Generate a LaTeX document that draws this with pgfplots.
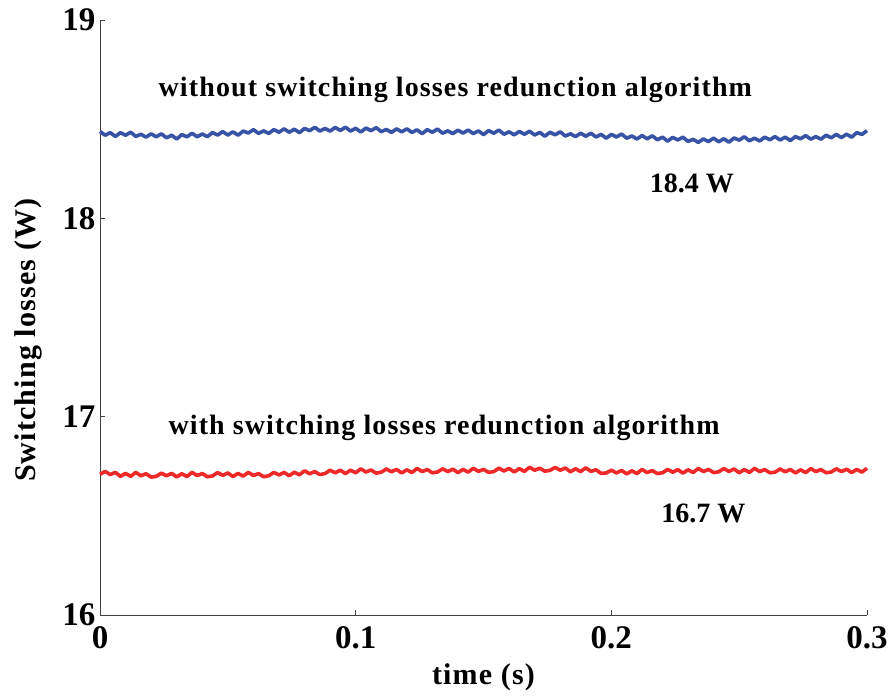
\documentclass[border=0pt]{standalone}
\usepackage{pgfplots}
\pgfplotsset{compat=1.18}
\usepackage{pgfplotstable}
\usepackage{fontspec}
\setmainfont{Liberation Serif}

\definecolor{lossblue}{RGB}{56,82,166}
\definecolor{lossred}{RGB}{237,41,41}

% switching losses without the reduction algorithm (W)
\pgfplotstableread{
t P
0.000 18.438
0.002 18.419
0.004 18.432
0.006 18.413
0.008 18.432
0.010 18.419
0.012 18.434
0.014 18.413
0.016 18.424
0.018 18.409
0.020 18.426
0.022 18.411
0.024 18.426
0.026 18.406
0.028 18.419
0.030 18.400
0.032 18.422
0.034 18.411
0.036 18.429
0.038 18.411
0.040 18.425
0.042 18.412
0.044 18.432
0.046 18.420
0.048 18.437
0.050 18.420
0.052 18.436
0.054 18.419
0.056 18.440
0.058 18.430
0.060 18.447
0.062 18.428
0.064 18.441
0.066 18.428
0.068 18.447
0.070 18.434
0.072 18.451
0.074 18.434
0.076 18.449
0.078 18.432
0.080 18.453
0.082 18.442
0.084 18.459
0.086 18.440
0.088 18.453
0.090 18.440
0.092 18.458
0.094 18.443
0.096 18.459
0.098 18.440
0.100 18.454
0.102 18.435
0.104 18.455
0.106 18.442
0.108 18.457
0.110 18.437
0.112 18.448
0.114 18.433
0.116 18.451
0.118 18.436
0.120 18.451
0.122 18.433
0.124 18.446
0.126 18.427
0.128 18.447
0.130 18.434
0.132 18.450
0.134 18.429
0.136 18.441
0.138 18.427
0.140 18.444
0.142 18.430
0.144 18.445
0.146 18.427
0.148 18.441
0.150 18.422
0.152 18.442
0.154 18.429
0.156 18.445
0.158 18.424
0.160 18.436
0.162 18.421
0.164 18.438
0.166 18.424
0.168 18.439
0.170 18.420
0.172 18.433
0.174 18.414
0.176 18.434
0.178 18.421
0.180 18.436
0.182 18.415
0.184 18.426
0.186 18.412
0.188 18.429
0.190 18.414
0.192 18.429
0.194 18.410
0.196 18.423
0.198 18.404
0.200 18.423
0.202 18.410
0.204 18.425
0.206 18.404
0.208 18.415
0.210 18.400
0.212 18.417
0.214 18.401
0.216 18.416
0.218 18.396
0.220 18.409
0.222 18.389
0.224 18.408
0.226 18.395
0.228 18.409
0.230 18.388
0.232 18.398
0.234 18.383
0.236 18.400
0.238 18.387
0.240 18.404
0.242 18.386
0.244 18.401
0.246 18.384
0.248 18.405
0.250 18.394
0.252 18.411
0.254 18.391
0.256 18.404
0.258 18.390
0.260 18.409
0.262 18.396
0.264 18.412
0.266 18.395
0.268 18.409
0.270 18.392
0.272 18.412
0.274 18.401
0.276 18.417
0.278 18.399
0.280 18.412
0.282 18.399
0.284 18.419
0.286 18.406
0.288 18.423
0.290 18.407
0.292 18.424
0.294 18.409
0.296 18.432
0.298 18.423
0.300 18.442
}\withoutalg

% switching losses with the reduction algorithm (W)
\pgfplotstableread{
t P
0.000 16.709
0.002 16.724
0.004 16.708
0.006 16.719
0.008 16.699
0.010 16.714
0.012 16.699
0.014 16.719
0.016 16.702
0.018 16.712
0.020 16.695
0.022 16.699
0.024 16.715
0.026 16.702
0.028 16.714
0.030 16.696
0.032 16.712
0.034 16.698
0.036 16.719
0.038 16.703
0.040 16.713
0.042 16.697
0.044 16.701
0.046 16.718
0.048 16.704
0.050 16.716
0.052 16.698
0.054 16.714
0.056 16.700
0.058 16.719
0.060 16.703
0.062 16.713
0.064 16.697
0.066 16.702
0.068 16.719
0.070 16.706
0.072 16.719
0.074 16.702
0.076 16.720
0.078 16.707
0.080 16.727
0.082 16.712
0.084 16.723
0.086 16.708
0.088 16.713
0.090 16.730
0.092 16.717
0.094 16.730
0.096 16.713
0.098 16.730
0.100 16.717
0.102 16.737
0.104 16.721
0.106 16.731
0.108 16.715
0.110 16.720
0.112 16.736
0.114 16.722
0.116 16.734
0.118 16.716
0.120 16.732
0.122 16.718
0.124 16.739
0.126 16.723
0.128 16.733
0.130 16.717
0.132 16.721
0.134 16.737
0.136 16.723
0.138 16.735
0.140 16.718
0.142 16.734
0.144 16.720
0.146 16.740
0.148 16.724
0.150 16.734
0.152 16.719
0.154 16.723
0.156 16.740
0.158 16.726
0.160 16.739
0.162 16.721
0.164 16.738
0.166 16.724
0.168 16.745
0.170 16.730
0.172 16.740
0.174 16.725
0.176 16.729
0.178 16.744
0.180 16.730
0.182 16.741
0.184 16.722
0.186 16.737
0.188 16.723
0.190 16.742
0.192 16.724
0.194 16.732
0.196 16.714
0.198 16.716
0.200 16.730
0.202 16.716
0.204 16.729
0.206 16.711
0.208 16.727
0.210 16.713
0.212 16.734
0.214 16.718
0.216 16.728
0.218 16.713
0.220 16.717
0.222 16.734
0.224 16.720
0.226 16.733
0.228 16.715
0.230 16.732
0.232 16.718
0.234 16.739
0.236 16.723
0.238 16.734
0.240 16.718
0.242 16.722
0.244 16.738
0.246 16.724
0.248 16.736
0.250 16.717
0.252 16.733
0.254 16.719
0.256 16.739
0.258 16.723
0.260 16.733
0.262 16.717
0.264 16.720
0.266 16.736
0.268 16.722
0.270 16.734
0.272 16.716
0.274 16.732
0.276 16.718
0.278 16.738
0.280 16.723
0.282 16.733
0.284 16.717
0.286 16.721
0.288 16.737
0.290 16.723
0.292 16.735
0.294 16.718
0.296 16.734
0.298 16.720
0.300 16.740
}\withalg

\begin{document}
\begin{tikzpicture}
\begin{axis}[
  scale only axis,
  width=767pt, height=595pt,
  xmin=0, xmax=0.3, ymin=16, ymax=19,
  axis lines=left,
  axis line style={-, line width=0.8pt, black!75},
  xtick={0,0.1,0.2,0.3}, xticklabels={0,0.1,0.2,0.3},
  ytick={16,17,18,19}, yticklabels={16,17,18,19},
  tick align=inside,
  major tick length=5pt,
  tick style={line width=0.8pt, black!75},
  ticklabel style={font=\fontsize{33}{33}\selectfont\bfseries},
  xticklabel style={yshift=-8pt},
  yticklabel style={xshift=-1pt},
  xlabel={time (s)},
  ylabel={Switching losses (W)},
  label style={font=\fontsize{30}{30}\selectfont\bfseries\addfontfeature{LetterSpace=4}},
  xlabel style={at={(axis description cs:0.5,-0.104)}, anchor=center},
  ylabel style={at={(axis description cs:-0.094,0.462)}, anchor=center},
  clip=false,
]
\addplot[lossblue, line width=3.6pt, line join=round] table[x=t, y=P] {\withoutalg};
\addplot[lossred, line width=3.6pt, line join=round] table[x=t, y=P] {\withalg};

\node[font=\fontsize{28}{28}\selectfont\bfseries\addfontfeature{LetterSpace=4}] at (axis cs:0.139,18.647) {without switching losses redunction algorithm};
\node[font=\fontsize{28}{28}\selectfont\bfseries] at (axis cs:0.2315,18.178) {18.4 W};
\node[font=\fontsize{28}{28}\selectfont\bfseries\addfontfeature{LetterSpace=4}] at (axis cs:0.1346,16.943) {with switching losses redunction algorithm};
\node[font=\fontsize{28}{28}\selectfont\bfseries] at (axis cs:0.236,16.514) {16.7 W};

% page frame around the axis
\path (axis description cs:-0.1304,-0.1361) rectangle (axis description cs:1.0352,1.0336);
\end{axis}
\end{tikzpicture}
\end{document}
